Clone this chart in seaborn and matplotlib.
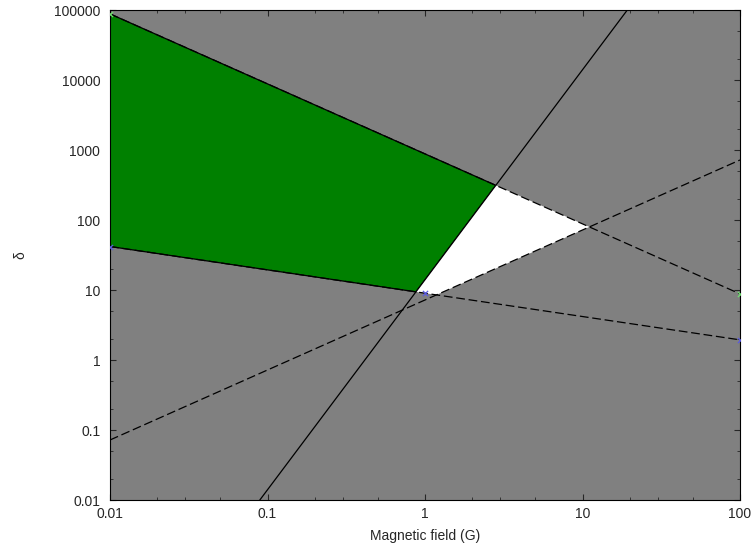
import numpy as np
import pandas as pd
import matplotlib
matplotlib.use("Agg")
import matplotlib.pyplot as plt
import seaborn as sns
from matplotlib.ticker import FixedLocator, LogLocator, NullFormatter

# Sampled field values (G) and the delta limits of each constraint
field = [0.01, 1, 100]
delta_upper = [88000, 880, 8.8]      # delta ~ 1/B
delta_lower = [41.8, 9.0, 1.94]      # delta ~ B^(-1/3)
delta_rising = [0.072, 7.2, 720]     # delta ~ B
delta_steep = [1.4e-5, 14, 1.4e7]    # delta ~ B^3

# Points where the limits are marked
marked_field_upper = [0.01, 100]
marked_delta_upper = [88000, 8.8]

x_ticks = [0.01, 0.1, 1, 10, 100]
x_tick_labels = ["0.01", "0.1", "1", "10", "100"]
y_ticks = [0.01, 0.1, 1, 10, 100, 1000, 10000, 100000]
y_tick_labels = ["0.01", "0.1", "1", "10", "100", "1000", "10000", "100000"]


def power_law(values):
    slope, icept = np.polyfit(np.log10(field), np.log10(values), 1)
    return slope, icept


def crossing(a, b):
    (p1, c1), (p2, c2) = a, b
    lx = (c2 - c1) / (p1 - p2)
    return 10 ** lx, 10 ** (c1 + p1 * lx)


up, lo, ri, st = (power_law(v) for v in (delta_upper, delta_lower, delta_rising, delta_steep))

sns.set_style("ticks")
plt.rcParams["font.family"] = ["Liberation Sans", "DejaVu Sans"]
plt.rcParams["font.size"] = 10

fig = plt.figure(figsize=(7.56, 5.52), dpi=100)
ax = fig.add_axes([110 / 756, 1 - 500 / 552, 630 / 756, 490 / 552])
ax.set_facecolor("#808080")
ax.set_xscale("log")
ax.set_yscale("log")
ax.set_xlim(0.01, 100)
ax.set_ylim(0.01, 100000)

# Allowed region (green) and the overlap region (white)
green = [(field[0], delta_upper[0]), crossing(up, st), crossing(st, lo), (field[0], delta_lower[0])]
white = [crossing(st, up), crossing(up, ri), crossing(ri, lo), crossing(lo, st)]
ax.fill(*zip(*green), facecolor="#008000", edgecolor="black", lw=0.9, zorder=1)
ax.fill(*zip(*white), facecolor="white", edgecolor="none", lw=0, zorder=1)

dash = (0, (7, 3))
sns.lineplot(x=field, y=delta_upper, ax=ax, color="black", lw=0.9, linestyle=dash, zorder=2)
sns.lineplot(x=field, y=delta_lower, ax=ax, color="black", lw=0.9, linestyle=dash, zorder=2)
sns.lineplot(x=field, y=delta_rising, ax=ax, color="black", lw=0.9, linestyle=dash, zorder=2)
sns.lineplot(x=field, y=delta_steep, ax=ax, color="black", lw=0.9, zorder=2)

sns.scatterplot(x=field, y=delta_lower, ax=ax, marker="x", color="#5a5ae0", s=14, linewidth=0.9, zorder=3)
sns.scatterplot(x=marked_field_upper, y=marked_delta_upper, ax=ax, marker="x", color="#70e070",
                s=14, linewidth=0.9, zorder=3)

ax.xaxis.set_major_locator(FixedLocator(x_ticks))
ax.set_xticklabels(x_tick_labels)
ax.yaxis.set_major_locator(FixedLocator(y_ticks))
ax.set_yticklabels(y_tick_labels)
ax.xaxis.set_minor_locator(LogLocator(base=10, subs=[2, 3, 5]))
ax.yaxis.set_minor_locator(LogLocator(base=10, subs=[2, 5]))
ax.xaxis.set_minor_formatter(NullFormatter())
ax.yaxis.set_minor_formatter(NullFormatter())
ax.tick_params(which="major", direction="in", length=4, width=0.8, top=True, right=True)
ax.tick_params(which="minor", direction="in", length=2, width=0.6, top=True, right=True)
ax.tick_params(axis="x", pad=5, labelsize=10)
ax.tick_params(axis="y", pad=7, labelsize=10)
for s in ax.spines.values():
    s.set_color("black")
    s.set_linewidth(0.8)

ax.set_xlabel("Magnetic field (G)", fontsize=10, labelpad=6)
ax.set_ylabel("δ", fontsize=10, labelpad=19)

fig.savefig("out.png", dpi=100, facecolor="white")
